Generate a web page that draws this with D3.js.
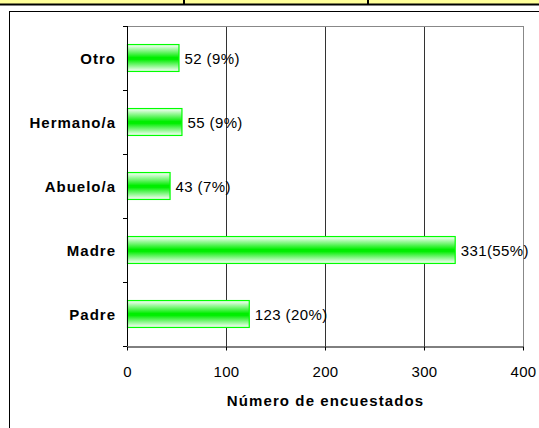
<!DOCTYPE html>
<html>
<head>
<meta charset="utf-8">
<script src="https://cdn.jsdelivr.net/npm/d3@7"></script>
<style>
  body { margin: 0; background: #fff; }
  svg { display: block; font-family: Arial, "Liberation Sans", sans-serif; }
</style>
</head>
<body>
<svg id="chart" width="539" height="428"></svg>
<script>
// data
const categories = ["Otro", "Hermano/a", "Abuelo/a", "Madre", "Padre"];
const counts = [52, 55, 43, 331, 123];
const labels = ["52 (9%)", "55 (9%)", "43 (7%)", "331(55%)", "123 (20%)"];
const xTicks = [0, 100, 200, 300, 400];
const xTitle = "Número de encuestados";

const svg = d3.select("#chart");

// yellow strip at top (spreadsheet cells)
const cellEdges = [0, 184, 368, 539];
svg.append("rect").attr("x", 0).attr("y", 0).attr("width", 539).attr("height", 4).attr("fill", "#ffff99");
svg.append("line").attr("x1", 0).attr("x2", 539).attr("y1", 4.5).attr("y2", 4.5).attr("stroke", "#000").attr("stroke-width", 2);
cellEdges.slice(1, -1).forEach(x => {
  svg.append("line").attr("x1", x).attr("x2", x).attr("y1", 0).attr("y2", 4).attr("stroke", "#000").attr("stroke-width", 2);
});

// chart frame
svg.append("rect").attr("x", 9.5).attr("y", 11.5).attr("width", 540).attr("height", 430)
  .attr("fill", "#fff").attr("stroke", "#000");

const margin = {left: 127, right: 16, top: 26, bottom: 82};
const x = d3.scaleLinear().domain([0, 400]).range([margin.left, 539 - margin.right]);
const y = d3.scaleBand().domain(categories).range([margin.top, 428 - margin.bottom]).paddingInner(0.58).paddingOuter(0.29);

const defs = svg.append("defs");
const grad = defs.append("linearGradient").attr("id", "barGrad").attr("x1", 0).attr("x2", 0).attr("y1", 0).attr("y2", 1);
grad.append("stop").attr("offset", "0%").attr("stop-color", "#ffffff");
grad.append("stop").attr("offset", "48%").attr("stop-color", "#00ee00");
grad.append("stop").attr("offset", "55%").attr("stop-color", "#00ee00");
grad.append("stop").attr("offset", "100%").attr("stop-color", "#ffffff");

const y0 = margin.top, y1 = 428 - margin.bottom;

// gridlines
svg.append("g").selectAll("line").data(xTicks.slice(1)).join("line")
  .attr("x1", d => Math.round(x(d)) + 0.5).attr("x2", d => Math.round(x(d)) + 0.5)
  .attr("y1", y0).attr("y2", y1)
  .attr("stroke", (d, i) => i === xTicks.length - 2 ? "#888" : "#333");

// top frame line
svg.append("line").attr("x1", x(0)).attr("x2", x(400)).attr("y1", y0 + 0.5).attr("y2", y0 + 0.5).attr("stroke", "#888");

// bars
svg.append("g").selectAll("rect").data(categories).join("rect")
  .attr("x", x(0) + 0.5)
  .attr("y", d => y(d))
  .attr("width", (d, i) => x(counts[i]) - x(0))
  .attr("height", y.bandwidth())
  .attr("fill", "url(#barGrad)")
  .attr("stroke", "#00ff00")
  .attr("stroke-width", 1.2);

// value labels
svg.append("g").selectAll("text").data(categories).join("text")
  .attr("x", (d, i) => x(counts[i]) + 6)
  .attr("y", d => y(d) + y.bandwidth() / 2 + 5.5)
  .attr("font-size", 15)
  .attr("letter-spacing", 0.4)
  .attr("fill", "#000")
  .text((d, i) => labels[i]);

// x axis
const xAxis = svg.append("g").attr("transform", `translate(0,${Math.round(y1) + 0.5})`)
  .call(d3.axisBottom(x).tickValues(xTicks).tickSize(4).tickPadding(12).tickSizeOuter(0));
xAxis.select(".domain").attr("stroke", "#000");
xAxis.selectAll(".tick line").attr("stroke", "#000");
xAxis.selectAll("text").attr("font-size", 15).attr("letter-spacing", 0.3)
  .attr("font-family", "Arial, 'Liberation Sans', sans-serif").attr("fill", "#000")
  .attr("dy", null).attr("y", 30);

// y axis: ticks at band boundaries
const boundaries = d3.range(categories.length + 1).map(i => y0 + i * (y1 - y0) / categories.length);
svg.append("line").attr("x1", x(0) + 0.5).attr("x2", x(0) + 0.5).attr("y1", y0).attr("y2", y1).attr("stroke", "#000");
svg.append("g").selectAll("line").data(boundaries).join("line")
  .attr("x1", x(0) - 4).attr("x2", x(0))
  .attr("y1", d => Math.round(d) + 0.5).attr("y2", d => Math.round(d) + 0.5)
  .attr("stroke", "#000");

svg.append("g").selectAll("text").data(categories).join("text")
  .attr("x", 116)
  .attr("y", d => y(d) + y.bandwidth() / 2 + 6)
  .attr("text-anchor", "end")
  .attr("font-size", 15)
  .attr("letter-spacing", 1)
  .attr("font-weight", "bold")
  .text(d => d);

// axis title
svg.append("text")
  .attr("x", (x(0) + x(400)) / 2 + 0.5)
  .attr("y", 406)
  .attr("text-anchor", "middle")
  .attr("font-size", 15)
  .attr("letter-spacing", 1.1)
  .attr("font-weight", "bold")
  .text(xTitle);
</script>
</body>
</html>
